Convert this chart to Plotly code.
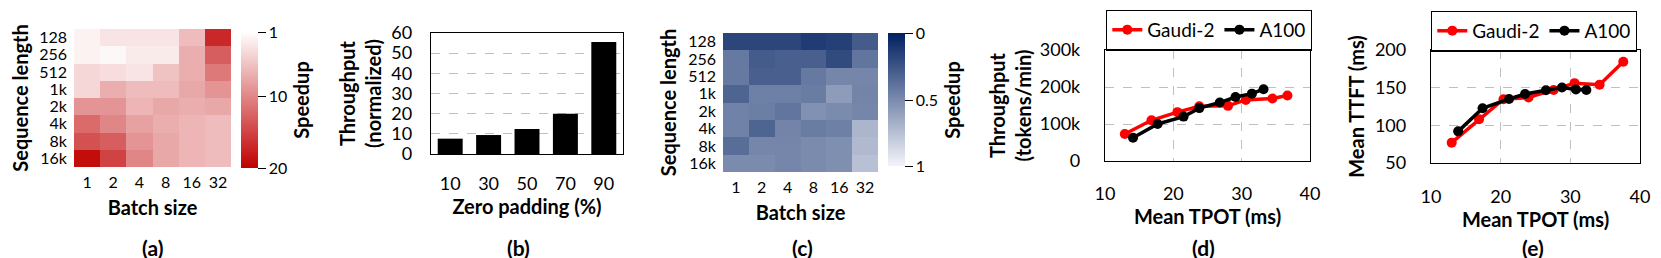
import plotly.graph_objects as go

W, H = 1661, 258
OFF = 8  # the page body margin offsets the figure by 8px

# ---------------- data ----------------
batch = ["1", "2", "4", "8", "16", "32"]
seqlen = ["128", "256", "512", "1k", "2k", "4k", "8k", "16k"]

speedup_a = [
    [2.0, 3.0, 3.0, 3.0, 6.0, 17.0],
    [2.0, 1.5, 2.5, 2.5, 7.0, 13.0],
    [4.0, 3.5, 3.0, 5.5, 7.0, 11.0],
    [4.0, 7.0, 6.0, 6.0, 7.5, 9.0],
    [9.0, 9.0, 6.5, 7.5, 7.0, 7.5],
    [12.0, 10.0, 8.0, 7.0, 6.5, 6.0],
    [14.0, 13.0, 9.0, 7.5, 6.5, 6.0],
    [19.0, 15.0, 10.0, 7.5, 6.5, 6.0],
]

speedup_c = [
    [0.18, 0.18, 0.18, 0.13, 0.15, 0.28],
    [0.42, 0.28, 0.30, 0.30, 0.20, 0.40],
    [0.42, 0.30, 0.30, 0.42, 0.48, 0.48],
    [0.32, 0.45, 0.45, 0.43, 0.58, 0.47],
    [0.46, 0.44, 0.40, 0.53, 0.50, 0.48],
    [0.46, 0.32, 0.47, 0.43, 0.45, 0.70],
    [0.36, 0.48, 0.48, 0.50, 0.52, 0.72],
    [0.50, 0.50, 0.48, 0.50, 0.52, 0.75],
]

zero_padding = ["10", "30", "50", "70", "90"]
throughput_norm = [7.6, 9.4, 12.4, 20.0, 55.5]

gaudi_tpot_d = [12.9, 16.8, 20.6, 23.8, 28.0, 30.6, 34.5, 36.7]
gaudi_thr_d = [73000, 110000, 132000, 148000, 149000, 165000, 169000, 177000]
a100_tpot_d = [14.1, 17.7, 21.5, 23.8, 26.8, 29.1, 31.5, 33.2]
a100_thr_d = [63000, 100000, 120000, 143000, 158000, 173000, 182000, 194000]

gaudi_tpot_e = [12.97, 16.9, 20.4, 24.0, 27.6, 30.6, 34.2, 37.6]
gaudi_ttft_e = [77, 108, 134.6, 137, 147, 156, 154, 184.5]
a100_tpot_e = [13.9, 17.4, 21.2, 23.5, 26.5, 28.8, 30.8, 32.3]
a100_ttft_e = [92, 122.7, 135, 141.5, 146.5, 150.3, 147.5, 147]

thr_tickvals = [0, 100000, 200000, 300000]
thr_ticktext = ["0", "100k", "200k", "300k"]
ttft_tickvals = [50, 100, 150, 200]
tpot_tickvals = [10, 20, 30, 40]
bar_tickvals = [0, 10, 20, 30, 40, 50, 60]

cb_a_vals = [1, 10, 20]
cb_c_vals = [0, 0.5, 1]

# ---------------- style ----------------
FONT = "Lato"
HTICK = 16   # heatmap tick font
TICK = 18
TITLE = 20
RED = "#FF0000"
BLACK = "#000000"
GRID = "#BFBFBF"


def px_x(x):
    return (x - OFF) / W


def px_y(y):
    return 1 - (y - OFF) / H


fig = go.Figure()

htickfont = dict(family=FONT, size=HTICK, color=BLACK)
tickfont = dict(family=FONT, size=TICK, color=BLACK)
titlefont = dict(family=FONT, size=TITLE, color=BLACK)

# (a) heatmap -- colorbar shows 1 at top, 20 at bottom (negated scale)
fig.add_trace(go.Heatmap(
    x=batch, y=seqlen, z=[[-v for v in row] for row in speedup_a],
    zmin=-20, zmax=-1,
    colorscale=[[0, "#C00000"], [1, "#FFFFFF"]],
    xaxis="x", yaxis="y", hoverinfo="skip",
    colorbar=dict(
        x=px_x(241), xanchor="left", y=px_y(100), yanchor="middle",
        len=(168 - 32) / H, thickness=17, outlinewidth=0, xpad=0, ypad=0,
        tickvals=[-v for v in cb_a_vals], ticktext=[str(v) for v in cb_a_vals],
        ticks="outside", ticklen=8, tickcolor=BLACK,
        tickfont=htickfont,
        title=dict(text="<b>Speedup</b>", side="right", font=titlefont),
    ),
))

# (b) bars
fig.add_trace(go.Bar(
    x=zero_padding, y=throughput_norm, marker_color=BLACK,
    marker_line_width=0, width=0.65, xaxis="x2", yaxis="y2",
    showlegend=False, hoverinfo="skip",
))

# (c) heatmap -- colorbar shows 0 at top, 1 at bottom
fig.add_trace(go.Heatmap(
    x=batch, y=seqlen, z=[[-v for v in row] for row in speedup_c],
    zmin=-1, zmax=0,
    colorscale=[[0, "#F4F5FA"], [1, "#002060"]],
    xaxis="x3", yaxis="y3", hoverinfo="skip",
    colorbar=dict(
        x=px_x(888), xanchor="left", y=px_y(100), yanchor="middle",
        len=(167 - 34) / H, thickness=17, outlinewidth=0, xpad=0, ypad=0,
        tickvals=[-v for v in cb_c_vals], ticktext=[f"{v:g}" for v in cb_c_vals],
        ticks="outside", ticklen=8, tickcolor=BLACK,
        tickfont=htickfont,
        title=dict(text="<b>Speedup</b>", side="right", font=titlefont),
    ),
))

# (d) lines
line_kw = dict(mode="lines+markers", hoverinfo="skip")
fig.add_trace(go.Scatter(x=gaudi_tpot_d, y=gaudi_thr_d, name="Gaudi-2",
                         line=dict(color=RED, width=3.5), marker=dict(size=10, color=RED),
                         xaxis="x4", yaxis="y4", legend="legend", **line_kw))
fig.add_trace(go.Scatter(x=a100_tpot_d, y=a100_thr_d, name="A100",
                         line=dict(color=BLACK, width=3.5), marker=dict(size=10, color=BLACK),
                         xaxis="x4", yaxis="y4", legend="legend", **line_kw))
# (e) lines
fig.add_trace(go.Scatter(x=gaudi_tpot_e, y=gaudi_ttft_e, name="Gaudi-2",
                         line=dict(color=RED, width=3.5), marker=dict(size=10, color=RED),
                         xaxis="x5", yaxis="y5", legend="legend2", **line_kw))
fig.add_trace(go.Scatter(x=a100_tpot_e, y=a100_ttft_e, name="A100",
                         line=dict(color=BLACK, width=3.5), marker=dict(size=10, color=BLACK),
                         xaxis="x5", yaxis="y5", legend="legend2", **line_kw))


def heat_axes(xd, yd, xtitle, ytitle, xstand):
    xa = dict(domain=xd, type="category", ticks="", showgrid=False, zeroline=False,
              showline=False, tickfont=htickfont, ticklabelstandoff=4, automargin=False,
              tickmode="array", tickvals=batch,
              title=dict(text=f"<b>{xtitle}</b>", font=titlefont, standoff=xstand))
    ya = dict(domain=yd, type="category", ticks="", showgrid=False, zeroline=False,
              showline=False, autorange="reversed", tickfont=htickfont, ticklabelstandoff=6,
              automargin=False, tickmode="array", tickvals=seqlen,
              title=dict(text=f"<b>{ytitle}</b>", font=titlefont, standoff=6))
    return xa, ya


xa, ya = heat_axes([px_x(74), px_x(231)], [px_y(167), px_y(29)], "Batch size", "Sequence length", 10)
xa["anchor"] = "y"; ya["anchor"] = "x"
fig.update_layout(xaxis=xa, yaxis=ya)

xa3, ya3 = heat_axes([px_x(723), px_x(878)], [px_y(172), px_y(33)], "Batch size", "Sequence length", 10)
xa3["anchor"] = "y3"; ya3["anchor"] = "x3"
fig.update_layout(xaxis3=xa3, yaxis3=ya3)

box = dict(showline=True, linecolor=BLACK, linewidth=1.3, mirror=True, ticks="",
           zeroline=False, tickfont=tickfont, automargin=False)
grid = dict(showgrid=True, gridcolor=GRID, griddash="dash", gridwidth=1.3)

fig.update_layout(
    xaxis2=dict(domain=[px_x(431), px_x(623)], anchor="y2", type="category",
                showgrid=False, ticklabelstandoff=13,
                title=dict(text="<b>Zero padding (%)</b>", font=titlefont, standoff=0), **box),
    yaxis2=dict(domain=[px_y(154), px_y(33)], anchor="x2", range=[0, 60],
                tickvals=bar_tickvals, ticklabelstandoff=14,
                title=dict(text="<b>Throughput<br>(normalized)</b>", font=titlefont, standoff=4),
                **grid, **box),
    xaxis4=dict(domain=[px_x(1105), px_x(1310)], anchor="y4", range=[10, 40],
                tickvals=tpot_tickvals, ticklabelstandoff=16,
                title=dict(text="<b>Mean TPOT (ms)</b>", font=titlefont, standoff=4),
                **grid, **box),
    yaxis4=dict(domain=[px_y(161), px_y(50)], anchor="x4", range=[0, 300000],
                tickvals=thr_tickvals, ticktext=thr_ticktext, ticklabelstandoff=20,
                title=dict(text="<b>Throughput<br>(tokens/min)</b>", font=titlefont, standoff=2),
                **grid, **box),
    xaxis5=dict(domain=[px_x(1431), px_x(1640)], anchor="y5", range=[10, 40],
                tickvals=tpot_tickvals, ticklabelstandoff=17,
                title=dict(text="<b>Mean TPOT (ms)</b>", font=titlefont, standoff=4),
                **grid, **box),
    yaxis5=dict(domain=[px_y(163), px_y(50)], anchor="x5", range=[50, 200],
                tickvals=ttft_tickvals, ticklabelstandoff=20,
                title=dict(text="<b>Mean TTFT (ms)</b>", font=titlefont, standoff=4),
                **grid, **box),
)

leg = dict(orientation="h", xanchor="left", yanchor="middle", bordercolor=BLACK,
           borderwidth=1.3, bgcolor="white", font=dict(family=FONT, size=19, color=BLACK),
           itemwidth=30, tracegroupgap=0)
fig.update_layout(
    legend=dict(x=px_x(1106), y=px_y(30), **leg),
    legend2=dict(x=px_x(1431), y=px_y(31), **leg),
)

labels = [("(a)", 152), ("(b)", 518), ("(c)", 802), ("(d)", 1203), ("(e)", 1533)]
for txt, cx in labels:
    fig.add_annotation(text=f"<b>{txt}</b>", x=px_x(cx), y=px_y(247), xref="paper",
                       yref="paper", showarrow=False, xanchor="center", yanchor="middle",
                       font=dict(family=FONT, size=21, color=BLACK))

fig.update_layout(
    template="none",
    width=W, height=H, margin=dict(l=0, r=0, t=0, b=0, pad=0),
    paper_bgcolor="white", plot_bgcolor="white",
    font=dict(family=FONT, color=BLACK),
    showlegend=True,
)

fig.write_html("out.html")
